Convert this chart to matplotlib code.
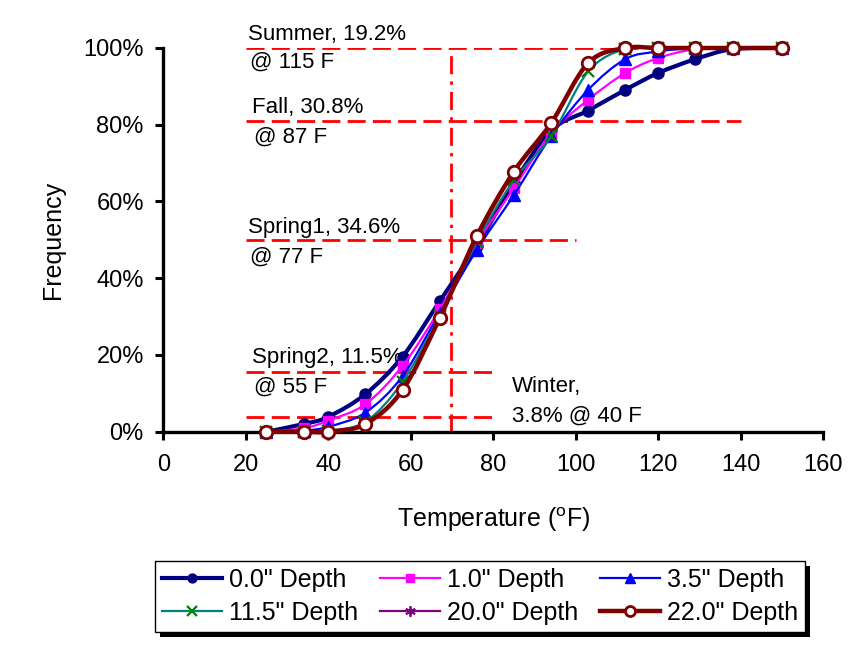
import numpy as np
import matplotlib
matplotlib.use("Agg")
import matplotlib.pyplot as plt
from matplotlib.path import Path
from matplotlib.patches import PathPatch, Rectangle
from matplotlib.lines import Line2D

plt.rcParams['font.family'] = ['Liberation Sans', 'DejaVu Sans']
FS = 18        # axis titles / legend
FS_TICK = 17
FS_ANN = 16

# ---------------- data ----------------
temps = [25, 34, 40, 49, 58, 67, 76, 85, 94, 103, 112, 120, 129, 138, 150]

depth_00 = [0, 2.0, 3.9, 9.8, 19.6, 34.0, 48.5, 64.8, 78.5, 83.7, 89.1, 93.5, 97.1, 99.7, 100]
depth_10 = [0, 0.9, 2.9, 7.2, 17.2, 31.9, 49.1, 63.5, 77.8, 86.5, 93.5, 97.4, 99.7, 100, 100]
depth_35 = [0, 0.3, 1.3, 5.0, 14.5, 31.0, 47.4, 61.7, 77.0, 89.1, 97.1, 99.1, 100, 100, 100]
depth_115 = [0, 0, 0.3, 2.6, 13.0, 30.2, 49.5, 65.6, 77.0, 93.9, 99.8, 100, 100, 100, 100]
depth_200 = [0, 0, 0, 2.0, 11.2, 29.8, 50.5, 67.5, 80.2, 95.8, 100, 100, 100, 100, 100]
depth_220 = [0, 0, 0, 2.0, 10.9, 29.6, 51.0, 67.8, 80.4, 96.1, 100, 100, 100, 100, 100]

series_labels = ['0.0" Depth', '1.0" Depth', '3.5" Depth',
                 '11.5" Depth', '20.0" Depth', '22.0" Depth']

# reference (annotation) lines: level %, x start, x end
ref_levels = [100, 81, 50, 15.6, 3.9]
ref_x_start = [20, 20, 20, 20, 20]
ref_x_end = [115, 140, 100, 80, 80]
vline_x = 69.7

x_ticks = [0, 20, 40, 60, 80, 100, 120, 140, 160]
y_ticks = [0, 20, 40, 60, 80, 100]

# ---------------- styles ----------------
styles = [
    dict(color='#000080', lw=3.0, marker='o', ms=8, mfc='#000080', mec='#000080', mew=1),
    dict(color='#FF00FF', lw=1.6, marker='s', ms=7.5, mfc='#FF00FF', mec='#FF00FF', mew=1),
    dict(color='#0000FF', lw=1.6, marker='^', ms=9, mfc='#0000FF', mec='#0000FF', mew=1),
    dict(color='#008080', lw=1.6, marker='x', ms=8.5, mfc='#008000', mec='#008000', mew=1.6),
    dict(color='#800080', lw=1.6, marker=(6, 2, 0), ms=9.5, mfc='#800080', mec='#800080', mew=1.3),
    dict(color='#800000', lw=3.2, marker='o', ms=9, mfc='white', mec='#800000', mew=2.0),
]


def smooth_path(xs, ys):
    """Catmull-Rom style Bezier path (like Excel smoothed lines)."""
    pts = np.column_stack([xs, ys]).astype(float)
    n = len(pts)
    verts = [pts[0]]
    codes = [Path.MOVETO]
    for i in range(n - 1):
        p0 = pts[i - 1] if i > 0 else pts[i]
        p1 = pts[i]
        p2 = pts[i + 1]
        p3 = pts[i + 2] if i + 2 < n else pts[i + 1]
        c1 = p1 + (p2 - p0) / 6.0
        c2 = p2 - (p3 - p1) / 6.0
        verts += [c1, c2, p2]
        codes += [Path.CURVE4] * 3
    return Path(verts, codes)


fig = plt.figure(figsize=(8.65, 6.46), dpi=100)
ax = fig.add_axes([0.1888, 0.3317, 0.763, 0.594])

# reference lines
for lvl, xs0, xs1 in zip(ref_levels, ref_x_start, ref_x_end):
    ax.plot([xs0, xs1], [lvl, lvl], color='#FF0000', lw=2.0,
            dashes=(6.5, 2.6), zorder=1)
ax.plot([vline_x, vline_x], [0, 100], color='#FF0000', lw=2.0,
        dashes=(6.5, 2.6, 1.2, 2.6), zorder=1)

all_series = [depth_00, depth_10, depth_35, depth_115, depth_200, depth_220]
handles = []
for k, (vals, st, lab) in enumerate(zip(all_series, styles, series_labels)):
    path = smooth_path(temps, vals)
    patch = PathPatch(path, fill=False, edgecolor=st['color'], lw=st['lw'],
                      zorder=3 + k, clip_on=False, capstyle='round', joinstyle='round')
    ax.add_patch(patch)
    ax.plot(temps, vals, linestyle='none', marker=st['marker'], ms=st['ms'],
            mfc=st['mfc'], mec=st['mec'], mew=st['mew'], zorder=3.5 + k, clip_on=False)
    handles.append(Line2D([], [], color=st['color'], lw=st['lw'], marker=st['marker'],
                          ms=st['ms'] * 0.8, mfc=st['mfc'], mec=st['mec'], mew=st['mew'],
                          label=lab))

ax.set_xlim(0, 160)
ax.set_ylim(0, 100)
ax.set_xticks(x_ticks)
ax.set_yticks(y_ticks)
ax.set_yticklabels([f'{v}%' for v in y_ticks])
ax.tick_params(axis='both', labelsize=FS_TICK, width=2.2, length=6, direction='out')
ax.tick_params(axis='y', pad=8)
ax.tick_params(axis='x', pad=10)
for s in ['top', 'right']:
    ax.spines[s].set_visible(False)
for s in ['left', 'bottom']:
    ax.spines[s].set_linewidth(2.4)

ax.set_ylabel('Frequency', fontsize=FS, labelpad=13)
ax.set_xlabel(r'Temperature ($^{\mathregular{o}}$F)', fontsize=FS, labelpad=21)

# annotations
ann_text = ['Summer, 19.2%', '@ 115 F', 'Fall, 30.8%', '@ 87 F',
            'Spring1, 34.6%', '@ 77 F', 'Spring2, 11.5%', '@ 55 F',
            'Winter,', '3.8% @ 40 F']
ann_x = [20.5, 20.9, 21.6, 22.0, 20.6, 20.9, 21.6, 22.0, 84.6, 84.6]
ann_y = [102.2, 94.8, 83.0, 75.3, 51.8, 44.0, 17.8, 10.1, 10.4, 2.6]
for t, xx, yy in zip(ann_text, ann_x, ann_y):
    ax.text(xx, yy, t, fontsize=FS_ANN, ha='left', va='baseline', zorder=2, clip_on=False)

# legend (row-wise order)
order = [0, 3, 1, 4, 2, 5]
leg = fig.legend([handles[i] for i in order], [series_labels[i] for i in order],
                 ncol=3, loc='center', bbox_to_anchor=(0.555, 0.0765),
                 fontsize=FS, frameon=True, fancybox=False, edgecolor='black',
                 framealpha=1, handlelength=2.4, handletextpad=0.25,
                 columnspacing=0.9, borderpad=0.3, labelspacing=0.35,
                 borderaxespad=0)
leg.get_frame().set_linewidth(1.0)
leg.set_zorder(10)

fig.canvas.draw()
bb = leg.get_window_extent()
shadow = Rectangle((bb.x0 + 5, bb.y0 - 5), bb.width, bb.height, transform=None,
                   facecolor='black', edgecolor='none', zorder=9)
fig.add_artist(shadow)

fig.savefig('out.png', dpi=100, facecolor='white')
